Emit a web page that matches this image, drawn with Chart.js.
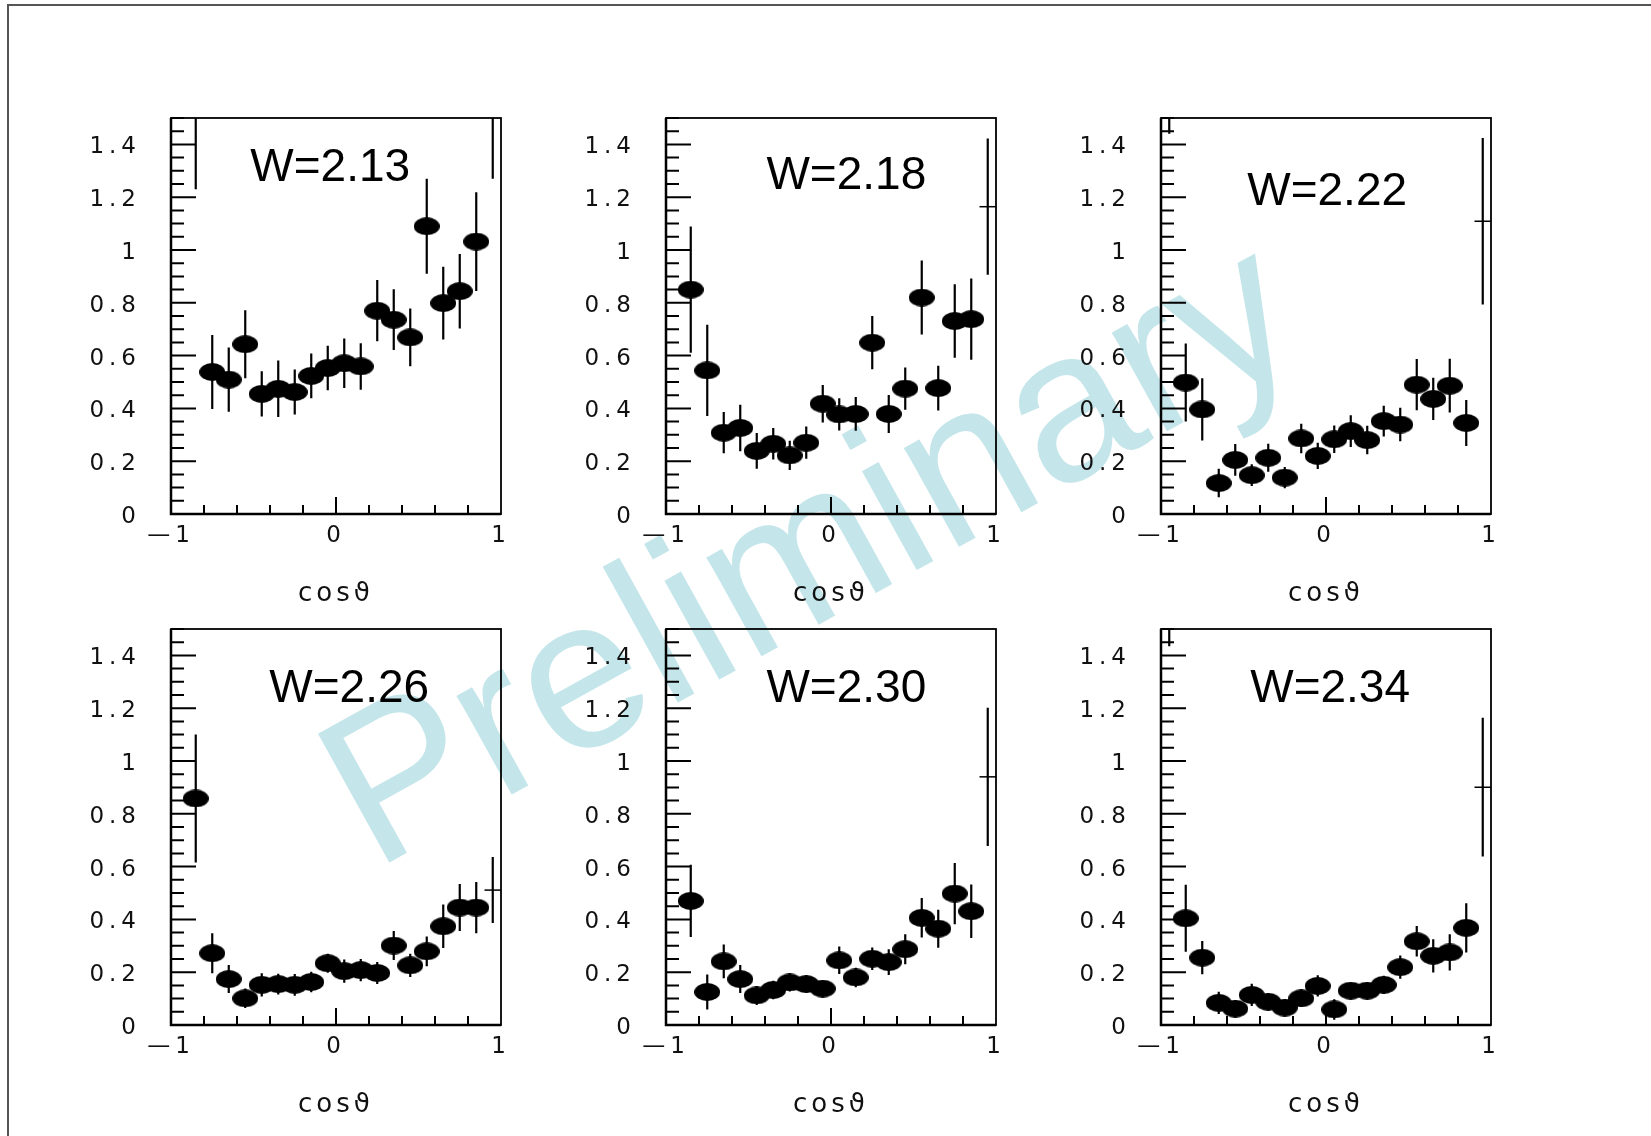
<!DOCTYPE html>
<html>
<head>
<meta charset="utf-8">
<script src="https://cdn.jsdelivr.net/npm/chart.js@4/dist/chart.umd.min.js"></script>
<style>
  body { margin: 0; background: #fff; }
  #page { position: relative; width: 1651px; height: 1136px; overflow: hidden; background: #fff; }
  /* the old plot frame: only left and top edges are inside the picture */
  #edge { position: absolute; left: 7px; top: 4px; width: 1700px; height: 1200px;
          border-left: 2px solid #555; border-top: 2px solid #555; }
  #prelim { position: absolute; left: 374px; top: 690px; white-space: nowrap;
            font-family: "Liberation Sans", Arial, sans-serif; font-size: 214px; line-height: 1;
            color: #c4e6ea; transform-origin: 0 181px; transform: rotate(-29deg); }
  canvas { position: absolute; }
</style>
</head>
<body>
<div id="page">
  <div id="edge"></div>
  <div id="prelim">Preliminary</div>
</div>
<script>
// bin centres of cos(theta), 20 bins of 0.1
const cosBins = [-0.95, -0.85, -0.75, -0.65, -0.55, -0.45, -0.35, -0.25, -0.15, -0.05,
                 0.05, 0.15, 0.25, 0.35, 0.45, 0.55, 0.65, 0.75, 0.85, 0.95];

const panelNames = ['W=2.13', 'W=2.18', 'W=2.22', 'W=2.26', 'W=2.30', 'W=2.34'];

// values and errors per W bin (null = empty bin, > 1.5 = off scale)
const w213 = [null, 1.60, 0.538, 0.509, 0.643, 0.455, 0.474, 0.462, 0.523, 0.553,
              0.571, 0.559, 0.770, 0.736, 0.669, 1.090, 0.799, 0.844, 1.032, 1.62];
const e213 = [0, 0.37, 0.140, 0.122, 0.129, 0.086, 0.107, 0.085, 0.085, 0.084,
              0.094, 0.088, 0.116, 0.115, 0.109, 0.180, 0.138, 0.141, 0.187, 0.35];

const w218 = [null, 0.850, 0.544, 0.308, 0.326, 0.239, 0.266, 0.222, 0.270, 0.418,
              0.377, 0.379, 0.649, 0.379, 0.475, 0.820, 0.477, 0.731, 0.738, 1.164];
const e218 = [0, 0.239, 0.173, 0.078, 0.088, 0.068, 0.060, 0.055, 0.061, 0.071,
              0.061, 0.064, 0.101, 0.072, 0.080, 0.140, 0.085, 0.139, 0.154, 0.258];

const w222 = [1.62, 0.498, 0.396, 0.117, 0.205, 0.147, 0.213, 0.138, 0.286, 0.220,
              0.283, 0.314, 0.280, 0.352, 0.339, 0.490, 0.436, 0.486, 0.345, 1.109];
const e222 = [0.18, 0.148, 0.118, 0.054, 0.060, 0.041, 0.053, 0.040, 0.056, 0.050,
              0.052, 0.060, 0.054, 0.058, 0.063, 0.097, 0.080, 0.102, 0.087, 0.315];

const w226 = [null, 0.858, 0.272, 0.174, 0.101, 0.152, 0.155, 0.152, 0.163, 0.234,
              0.204, 0.208, 0.197, 0.301, 0.226, 0.279, 0.374, 0.445, 0.445, 0.511];
const e226 = [0, 0.242, 0.076, 0.053, 0.037, 0.044, 0.039, 0.041, 0.039, 0.036,
              0.044, 0.042, 0.042, 0.055, 0.044, 0.056, 0.082, 0.089, 0.097, 0.125];

const w230 = [null, 0.470, 0.125, 0.241, 0.174, 0.112, 0.133, 0.161, 0.155, 0.138,
              0.245, 0.180, 0.251, 0.238, 0.287, 0.406, 0.365, 0.498, 0.431, 0.940];
const e230 = [0, 0.137, 0.066, 0.064, 0.053, 0.036, 0.035, 0.034, 0.033, 0.030,
              0.052, 0.037, 0.043, 0.049, 0.057, 0.075, 0.072, 0.116, 0.101, 0.262];

const w234 = [1.60, 0.404, 0.255, 0.084, 0.062, 0.114, 0.088, 0.066, 0.101, 0.148,
              0.059, 0.130, 0.130, 0.152, 0.219, 0.317, 0.262, 0.275, 0.368, 0.901];
const e234 = [0.165, 0.127, 0.063, 0.042, 0.033, 0.042, 0.033, 0.031, 0.033, 0.040,
              0.039, 0.030, 0.032, 0.035, 0.044, 0.058, 0.063, 0.069, 0.093, 0.263];

const yTickLabels = ['0', '0.2', '0.4', '0.6', '0.8', '1', '1.2', '1.4'];
const xTickValues = [-1, 0, 1];
const xTickLabels = ['\u20141', '0', '1'];

const panels = [
  { name: panelNames[0], vals: w213, errs: e213 },
  { name: panelNames[1], vals: w218, errs: e218 },
  { name: panelNames[2], vals: w222, errs: e222 },
  { name: panelNames[3], vals: w226, errs: e226 },
  { name: panelNames[4], vals: w230, errs: e230 },
  { name: panelNames[5], vals: w234, errs: e234 }
];

// layout (pixels) and where the W= text sits (axis units)
const frameLeft = [171, 666, 1161];
const frameTop = [118, 629];
const textAt = [[-0.035, 1.322], [0.093, 1.292], [0.007, 1.233],
                [0.080, 1.285], [0.093, 1.285], [0.025, 1.285]];

// black ellipse marker, like the ROOT full-dot in the scan
const dot = document.createElement('canvas');
dot.width = 26; dot.height = 18;
const dc = dot.getContext('2d');
dc.beginPath();
dc.ellipse(13, 9, 13, 9, 0, 0, 2 * Math.PI);
dc.fill();

function isEdge(i) { return i === 0 || i === cosBins.length - 1; }

function errorSegments(vals, errs) {
  const pts = [];
  cosBins.forEach(function (x, i) {
    if (vals[i] == null) return;
    pts.push({ x: x, y: vals[i] - errs[i] }, { x: x, y: vals[i] + errs[i] }, { x: x, y: null });
  });
  return pts;
}

// edge bins are drawn as plain crosses, with the half bin width
function edgeSegments(vals) {
  const pts = [];
  cosBins.forEach(function (x, i) {
    if (!isEdge(i) || vals[i] == null) return;
    pts.push({ x: x - 0.05, y: vals[i] }, { x: x + 0.05, y: vals[i] }, { x: x, y: null });
  });
  return pts;
}

function markerPoints(vals) {
  const pts = [];
  cosBins.forEach(function (x, i) {
    if (isEdge(i) || vals[i] == null) return;
    pts.push({ x: x, y: vals[i] });
  });
  return pts;
}

// frame, inward ticks and the W= text
const rootFrame = {
  id: 'rootFrame',
  beforeDraw(chart) {
    chart.ctx.letterSpacing = '5px';
    const xs = chart.scales.x;
    if (!xs.drawTitle.patched) {
      const base = xs.drawTitle;
      xs.drawTitle = function () {
        const c = this.ctx;
        c.save();
        c.letterSpacing = '4px';
        base.call(this);
        c.restore();
      };
      xs.drawTitle.patched = true;
    }
  },
  afterDraw(chart, args, opts) {
    const ctx = chart.ctx;
    const a = chart.chartArea;
    const x = chart.scales.x, y = chart.scales.y;
    ctx.save();
    ctx.letterSpacing = '0px';
    ctx.strokeStyle = '#000';
    ctx.lineWidth = 2;
    ctx.beginPath();
    y.ticks.forEach(function (t) {
      const py = y.getPixelForValue(t.value);
      const len = t.label ? 25 : 13;
      ctx.moveTo(a.left, py);
      ctx.lineTo(a.left + len, py);
    });
    x.ticks.forEach(function (t) {
      if (Math.abs(t.value) > 0.99) return;
      const px = x.getPixelForValue(t.value);
      const len = Math.abs(t.value) < 1e-6 ? 17 : 9;
      ctx.moveTo(px, a.bottom);
      ctx.lineTo(px, a.bottom - len);
    });
    ctx.stroke();

    ctx.lineWidth = 1.8;
    ctx.strokeRect(a.left, a.top, a.right - a.left, a.bottom - a.top);
    ctx.lineWidth = 2.5;
    ctx.beginPath();
    ctx.moveTo(a.left, a.top);
    ctx.lineTo(a.left, a.bottom);
    ctx.lineTo(a.right, a.bottom);
    ctx.stroke();

    ctx.font = '46px "Liberation Sans", Arial, sans-serif';
    ctx.fillStyle = '#000';
    ctx.textAlign = 'center';
    ctx.textBaseline = 'alphabetic';
    ctx.fillText(opts.text, x.getPixelForValue(opts.at[0]), y.getPixelForValue(opts.at[1]) + 16.5);
    ctx.restore();
  }
};

const page = document.getElementById('page');

panels.forEach(function (p, n) {
  const col = n % 3, row = Math.floor(n / 3);
  const cv = document.createElement('canvas');
  cv.width = 510; cv.height = 526;
  cv.style.left = (frameLeft[col] - 160) + 'px';
  cv.style.top = (frameTop[row] - 30) + 'px';
  page.appendChild(cv);

  new Chart(cv, {
    type: 'scatter',
    data: {
      datasets: [
        { type: 'scatter', data: markerPoints(p.vals), pointStyle: dot, pointRadius: 6, order: 0 },
        { type: 'line', data: errorSegments(p.vals, p.errs), borderColor: '#000', borderWidth: 2.2,
          pointRadius: 0, spanGaps: false, clip: 0, order: 1 },
        { type: 'line', data: edgeSegments(p.vals), borderColor: '#000', borderWidth: 1.5,
          pointRadius: 0, spanGaps: false, clip: 0, order: 1 }
      ]
    },
    options: {
      responsive: false,
      animation: false,
      events: [],
      layout: { padding: { left: 0, right: 20, top: 30, bottom: 0 } },
      plugins: {
        legend: { display: false },
        tooltip: { enabled: false },
        rootFrame: { text: p.name, at: textAt[n] }
      },
      scales: {
        x: {
          type: 'linear', min: -1, max: 1,
          grid: { display: false, drawTicks: false },
          border: { display: false },
          ticks: {
            stepSize: 0.2, autoSkip: false, maxRotation: 0, minRotation: 0, padding: 8,
            color: '#111', font: { family: '"DejaVu Sans"', size: 23 },
            callback: function (v) {
              const i = xTickValues.findIndex(function (t) { return Math.abs(t - v) < 1e-6; });
              return i < 0 ? '' : xTickLabels[i];
            }
          },
          title: { display: true, text: 'cos\u03D1', color: '#111',
                   font: { family: '"DejaVu Sans"', size: 26 }, padding: { top: 0, bottom: 4 } },
          afterFit: function (s) { s.height = 100; s.paddingLeft = 0; s.paddingRight = 0; }
        },
        y: {
          type: 'linear', min: 0, max: 1.5,
          grid: { display: false, drawTicks: false },
          border: { display: false },
          ticks: {
            stepSize: 0.05, autoSkip: false, padding: 30, labelOffset: 3,
            color: '#111', font: { family: '"DejaVu Sans"', size: 23 },
            callback: function (v) {
              const k = Math.round(v / 0.2);
              return Math.abs(v - k * 0.2) < 1e-6 ? yTickLabels[k] : '';
            }
          },
          afterFit: function (s) { s.width = 160; s.paddingTop = 0; s.paddingBottom = 0; }
        }
      }
    },
    plugins: [rootFrame]
  });
});
</script>
</body>
</html>
